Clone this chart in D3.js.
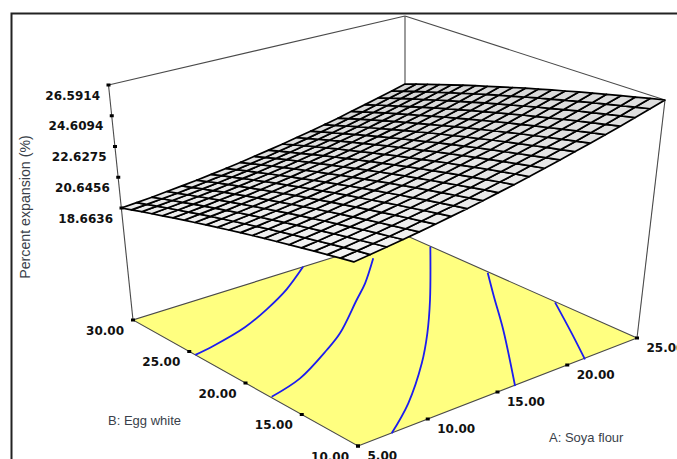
<!DOCTYPE html>
<html>
<head>
<meta charset="utf-8">
<style>
  body { margin: 0; background: #fff; overflow: hidden; }
  text.tick { font: bold 12px "DejaVu Sans"; fill: #111; }
  text.title { font-family: "Liberation Sans"; fill: #3a3f4a; }
</style>
<script src="https://d3js.org/d3.v7.min.js"></script>
</head>
<body>
<svg id="chart" width="677" height="459"></svg>
<script>
// factor levels and tick labels
const soyaTicks = [5, 10, 15, 20, 25];
const eggTicks = [30, 25, 20, 15, 10];
const expansionTicks = [18.6636, 20.6456, 22.6275, 24.6094, 26.5914];

// mesh positions, 21 x 21
const soyaGrid = [5, 6, 7, 8, 9, 10, 11, 12, 13, 14, 15, 16, 17, 18, 19, 20, 21, 22, 23, 24, 25];
const eggGrid = [10, 11, 12, 13, 14, 15, 16, 17, 18, 19, 20, 21, 22, 23, 24, 25, 26, 27, 28, 29, 30];

// percent expansion, one row per egg white level, one column per soya flour level
const expansion = [
  [22.21,22.34,22.49,22.64,22.80,22.97,23.15,23.33,23.53,23.74,23.95,24.17,24.41,24.65,24.90,25.16,25.43,25.70,25.99,26.29,26.5914],
  [22.07,22.20,22.34,22.48,22.64,22.81,22.99,23.17,23.36,23.57,23.78,24.00,24.23,24.47,24.71,24.97,25.24,25.51,25.79,26.09,26.39],
  [21.92,22.05,22.18,22.33,22.48,22.65,22.82,23.00,23.19,23.39,23.60,23.82,24.05,24.28,24.53,24.78,25.04,25.31,25.59,25.88,26.18],
  [21.77,21.89,22.03,22.17,22.32,22.48,22.65,22.83,23.02,23.21,23.42,23.64,23.86,24.09,24.33,24.59,24.85,25.11,25.39,25.68,25.97],
  [21.61,21.73,21.87,22.00,22.15,22.31,22.48,22.65,22.84,23.03,23.24,23.45,23.67,23.90,24.14,24.39,24.64,24.91,25.19,25.47,25.76],
  [21.45,21.57,21.70,21.84,21.98,22.14,22.30,22.48,22.66,22.85,23.05,23.26,23.48,23.70,23.94,24.19,24.44,24.70,24.98,25.26,25.55],
  [21.29,21.41,21.53,21.67,21.81,21.96,22.12,22.29,22.47,22.66,22.86,23.07,23.28,23.51,23.74,23.98,24.23,24.49,24.76,25.04,25.33],
  [21.13,21.24,21.36,21.49,21.63,21.78,21.94,22.11,22.29,22.47,22.67,22.87,23.08,23.30,23.53,23.77,24.02,24.28,24.55,24.82,25.10],
  [20.96,21.07,21.19,21.32,21.45,21.60,21.76,21.92,22.09,22.28,22.47,22.67,22.88,23.10,23.32,23.56,23.81,24.06,24.32,24.60,24.88],
  [20.79,20.89,21.01,21.14,21.27,21.41,21.57,21.73,21.90,22.08,22.27,22.46,22.67,22.89,23.11,23.35,23.59,23.84,24.10,24.37,24.65],
  [20.61,20.71,20.83,20.95,21.08,21.22,21.37,21.53,21.70,21.88,22.06,22.26,22.46,22.67,22.90,23.13,23.37,23.61,23.87,24.14,24.42],
  [20.43,20.53,20.64,20.76,20.89,21.03,21.18,21.33,21.50,21.67,21.86,22.05,22.25,22.46,22.68,22.90,23.14,23.39,23.64,23.91,24.18],
  [20.25,20.35,20.46,20.57,20.70,20.83,20.98,21.13,21.29,21.46,21.64,21.83,22.03,22.24,22.45,22.68,22.91,23.15,23.41,23.67,23.94],
  [20.06,20.16,20.26,20.38,20.50,20.63,20.77,20.92,21.08,21.25,21.43,21.61,21.81,22.01,22.23,22.45,22.68,22.92,23.17,23.43,23.69],
  [19.87,19.97,20.07,20.18,20.30,20.43,20.57,20.71,20.87,21.04,21.21,21.39,21.59,21.79,22.00,22.22,22.44,22.68,22.93,23.18,23.45],
  [19.68,19.77,19.87,19.98,20.09,20.22,20.36,20.50,20.65,20.82,20.99,21.17,21.36,21.56,21.76,21.98,22.21,22.44,22.68,22.94,23.20],
  [19.48,19.57,19.67,19.77,19.89,20.01,20.14,20.28,20.43,20.59,20.76,20.94,21.13,21.32,21.53,21.74,21.96,22.19,22.43,22.68,22.94],
  [19.28,19.37,19.46,19.56,19.67,19.80,19.93,20.06,20.21,20.37,20.53,20.71,20.89,21.08,21.29,21.50,21.72,21.94,22.18,22.43,22.68],
  [19.08,19.16,19.25,19.35,19.46,19.58,19.70,19.84,19.98,20.14,20.30,20.47,20.65,20.84,21.04,21.25,21.47,21.69,21.93,22.17,22.42],
  [18.87,18.95,19.04,19.13,19.24,19.36,19.48,19.61,19.75,19.90,20.07,20.23,20.41,20.60,20.79,21.00,21.21,21.44,21.67,21.91,22.16],
  [18.6636,18.74,18.82,18.92,19.02,19.13,19.25,19.38,19.52,19.67,19.83,19.99,20.17,20.35,20.54,20.74,20.96,21.18,21.41,21.64,21.89]
];

// contour lines on the floor, [soya flour, egg white]
const contour1 = [[5, 23.97], [6.41, 24.28], [9.2, 25.17], [11.62, 26.38], [14.23, 27.94], [17.03, 30]];
const contour2 = [[5.07, 17.21], [7.54, 18], [10.83, 19.88], [12.75, 21.13], [16.37, 24.12], [18.29, 25.7], [21.09, 28.35]];
const contour3 = [[7.16, 9.97], [10, 12.02], [13.69, 15.24], [16.47, 18], [19.61, 21.4], [24.95, 27.54]];
const contour4 = [[15.64, 9.93], [20.02, 15.6], [22.77, 19.38], [24.9, 22.26]];
const contour5 = [[20.81, 9.89], [22.65, 12.8], [24.93, 16.51]];

// box corners on screen: front, right, back, left
const floorBox = [[358, 446], [637, 338], [405, 235], [133, 320]];
const topBox = [[352, 187], [665, 100], [405, 16], [108.5, 85]];

const svg = d3.select("#chart");

// unit square -> quad
function quadMap(q) {
  let dx1 = q[1][0] - q[2][0], dx2 = q[3][0] - q[2][0], sx = q[0][0] - q[1][0] + q[2][0] - q[3][0];
  let dy1 = q[1][1] - q[2][1], dy2 = q[3][1] - q[2][1], sy = q[0][1] - q[1][1] + q[2][1] - q[3][1];
  let den = dx1 * dy2 - dx2 * dy1;
  let g = (sx * dy2 - dx2 * sy) / den, h = (dx1 * sy - sx * dy1) / den;
  return (u, v) => {
    let w = g * u + h * v + 1;
    return [
      ((q[1][0] - q[0][0] + g * q[1][0]) * u + (q[3][0] - q[0][0] + h * q[3][0]) * v + q[0][0]) / w,
      ((q[1][1] - q[0][1] + g * q[1][1]) * u + (q[3][1] - q[0][1] + h * q[3][1]) * v + q[0][1]) / w
    ];
  };
}

const floorMap = quadMap(floorBox);
const topMap = quadMap(topBox);
const uScale = d3.scaleLinear().domain([5, 25]).range([0, 1]);
const vScale = d3.scaleLinear().domain([10, 30]).range([0, 1]);
const wScale = d3.scaleLinear().domain([18.6636, 26.5914]).range([0.4766, 1]);

function project(a, b, z) {
  let u = uScale(a), v = vScale(b);
  let p0 = floorMap(u, v), p1 = topMap(u, v);
  let w = z === null ? 0 : wScale(z);
  return [p0[0] + (p1[0] - p0[0]) * w, p0[1] + (p1[1] - p0[1]) * w];
}

const line = d3.line();
const boxLine = "#4a4a4a";

// frame
svg.append("path").attr("d", "M11.5,459V13.5H677")
  .attr("fill", "none").attr("stroke", "#222").attr("stroke-width", 2);

// back of the box
[[topBox[2], topBox[3]], [topBox[2], topBox[1]], [topBox[2], floorBox[2]],
 [topBox[3], floorBox[3]], [topBox[1], floorBox[1]]].forEach(d => {
  svg.append("path").attr("d", line(d)).attr("fill", "none")
    .attr("stroke", boxLine).attr("stroke-width", 1.1);
});

// floor
svg.append("path").attr("d", line(floorBox) + "Z")
  .attr("fill", "#ffff80").attr("stroke", boxLine).attr("stroke-width", 1.1);

const contourLine = d3.line().curve(d3.curveCatmullRom);
[contour1, contour2, contour3, contour4, contour5].forEach(c => {
  svg.append("path")
    .attr("d", contourLine(c.map(d => project(d[0], d[1], null))))
    .attr("fill", "none").attr("stroke", "#1c1cf0").attr("stroke-width", 1.8);
});

// surface, lighter towards the front
const cells = [];
d3.range(soyaGrid.length - 1).forEach(i => {
  d3.range(eggGrid.length - 1).forEach(j => cells.push({i: i, j: j}));
});
const shadeU = d3.scaleLinear().domain([0, 1]).range([243, 222]);
const shadeV = d3.scaleLinear().domain([0, 1]).range([0, 8]);

svg.append("g").selectAll("path").data(cells).join("path")
  .attr("d", d => line([
    project(soyaGrid[d.i], eggGrid[d.j], expansion[d.j][d.i]),
    project(soyaGrid[d.i + 1], eggGrid[d.j], expansion[d.j][d.i + 1]),
    project(soyaGrid[d.i + 1], eggGrid[d.j + 1], expansion[d.j + 1][d.i + 1]),
    project(soyaGrid[d.i], eggGrid[d.j + 1], expansion[d.j + 1][d.i])
  ]) + "Z")
  .attr("fill", d => {
    let s = Math.round(shadeU(d.i / 19) - shadeV(d.j / 19));
    return `rgb(${s},${s},${s})`;
  })
  .attr("stroke", "#000").attr("stroke-width", 1.7).attr("stroke-linejoin", "round");

// ticks and labels, spaced evenly along the box edges
const zX = d3.scaleLinear().domain([18.6636, 26.5914]).range([121.5, 108.5]);
const zY = d3.scaleLinear().domain([18.6636, 26.5914]).range([208, 85]);
const bX = d3.scaleLinear().domain([30, 10]).range([133, 358]);
const bY = d3.scaleLinear().domain([30, 10]).range([320, 446]);
const aX = d3.scaleLinear().domain([5, 25]).range([358, 637]);
const aY = d3.scaleLinear().domain([5, 25]).range([446, 338]);

function tick(x, y) {
  svg.append("rect").attr("x", x - 2).attr("y", y - 1.5)
    .attr("width", 4).attr("height", 3).attr("fill", "#000");
}

expansionTicks.forEach(d => {
  tick(zX(d), zY(d));
  svg.append("text").attr("class", "tick").attr("text-anchor", "end")
    .attr("x", zX(d) - 8.5).attr("y", zY(d) + 14.5).text(d.toFixed(4));
});
eggTicks.forEach(d => {
  tick(bX(d), bY(d));
  svg.append("text").attr("class", "tick").attr("text-anchor", "end")
    .attr("x", bX(d) - 9).attr("y", bY(d) + 14.5).text(d.toFixed(2));
});
soyaTicks.forEach(d => {
  tick(aX(d), aY(d));
  svg.append("text").attr("class", "tick")
    .attr("x", aX(d) + 9.5).attr("y", aY(d) + 14).text(d.toFixed(2));
});

// axis titles
svg.append("text").attr("class", "title").attr("font-size", 14.2)
  .attr("text-anchor", "middle")
  .attr("transform", "translate(29.5,207) rotate(-90)").text("Percent expansion (%)");
svg.append("text").attr("class", "title").attr("font-size", 13)
  .attr("x", 108).attr("y", 424.5).text("B: Egg white");
svg.append("text").attr("class", "title").attr("font-size", 13)
  .attr("x", 549).attr("y", 442).text("A: Soya flour");
</script>
</body>
</html>
